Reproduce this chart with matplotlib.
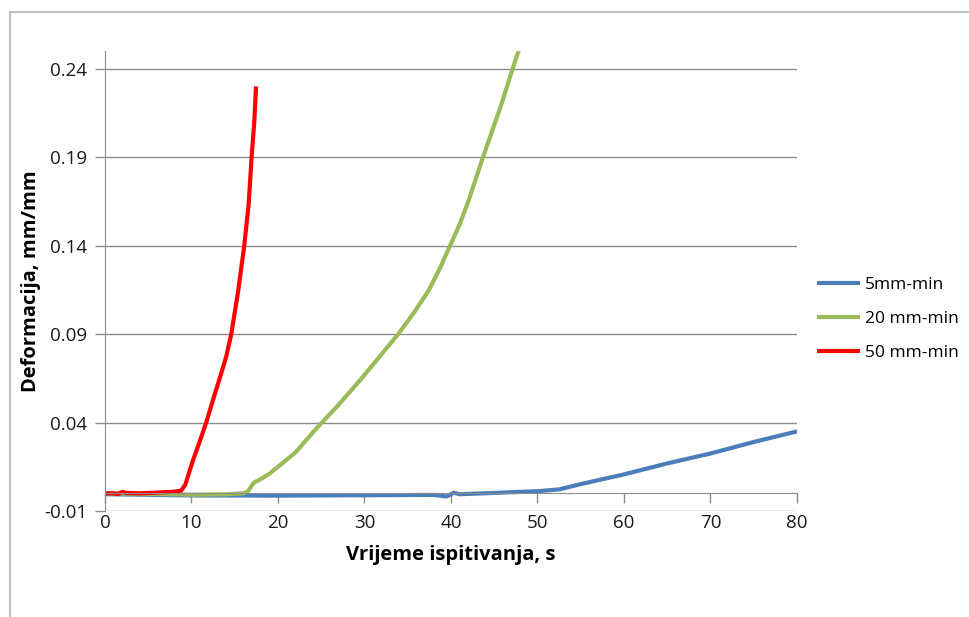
import numpy as np
import matplotlib
matplotlib.use('Agg')
import matplotlib.pyplot as plt
from matplotlib.patches import Rectangle

plt.rcParams['font.family'] = ['Open Sans', 'DejaVu Sans']

# 5mm-min
t_5 = [0, 10, 20, 30, 38, 39.5, 40.3, 41, 45, 50, 52.5, 55, 60, 65, 70, 75, 80]
d_5 = [-0.0005, -0.0012, -0.0013, -0.0011, -0.0009, -0.0018, 0.0003, -0.0005,
       0.0002, 0.0012, 0.0022, 0.0052, 0.0107, 0.0169, 0.0225, 0.029, 0.035]

# 20 mm-min
t_20 = [0, 5, 10, 14, 16, 16.5, 17.2, 18, 19, 20, 22, 24.5, 27, 29.5, 31.7,
        33.9, 35.7, 37.4, 38.7, 39.9, 41, 42, 43.7, 45.7, 47, 47.8, 48.3]
d_20 = [0.0, -0.0003, -0.0008, -0.0006, 0.0, 0.001, 0.006, 0.008, 0.011, 0.015,
        0.023, 0.037, 0.050, 0.064, 0.077, 0.09, 0.102, 0.1145, 0.127, 0.14,
        0.152, 0.165, 0.19, 0.218, 0.238, 0.25, 0.258]

# 50 mm-min
t_50 = [0, 1, 1.5, 2, 2.5, 4, 6, 8, 8.8, 9.3, 9.8, 10.2, 11, 11.7, 12.5, 13.2,
        14, 14.6, 15.4, 16.1, 16.6, 16.95, 17.26, 17.46]
d_50 = [0.0, 0.0, -0.0004, 0.0008, 0.0002, 0.0, 0.0004, 0.0009, 0.0015, 0.005,
        0.013, 0.019, 0.03, 0.04, 0.053, 0.064, 0.077, 0.09, 0.1145, 0.14,
        0.163, 0.19, 0.21, 0.23]

labels = ['5mm-min', '20 mm-min', '50 mm-min']
colors = ['#4a7ebb', '#9bbb59', '#ff0000']

fig = plt.figure(figsize=(9.7, 6.17), dpi=100)
# outer chart border
fig.patches.append(Rectangle((10 / 970, -0.1), 1.2, 1 - 12 / 617 + 0.1,
                             transform=fig.transFigure, fill=False,
                             edgecolor='#bfbfbf', lw=1.5))

ax = fig.add_axes([105 / 970, 106 / 617, 692 / 970, 460 / 617])

ax.plot(t_5, d_5, color=colors[0], lw=3, label=labels[0], solid_capstyle='butt')
ax.plot(t_20, d_20, color=colors[1], lw=3, label=labels[1], solid_capstyle='butt')
ax.plot(t_50, d_50, color=colors[2], lw=3, label=labels[2], solid_capstyle='butt')

ax.set_xlim(0, 80)
ax.set_ylim(-0.01, 0.25)
ax.set_xticks(np.arange(0, 81, 10))
ax.set_yticks(np.arange(-0.01, 0.25, 0.05))
ax.set_yticklabels(['-0.01', '0.04', '0.09', '0.14', '0.19', '0.24'])

ax.yaxis.grid(True, color='#8c8c8c', lw=1)
ax.set_axisbelow(True)
for s in ['top', 'right']:
    ax.spines[s].set_visible(False)
ax.spines['left'].set_color('#8c8c8c')
ax.spines['bottom'].set_color('#8c8c8c')
ax.spines['bottom'].set_position(('data', 0))

ax.tick_params(axis='both', colors='#8c8c8c', labelcolor='#1a1a1a',
               labelsize=13.5, length=7, width=1, direction='out')
ax.tick_params(axis='x', pad=8)
ax.tick_params(axis='y', pad=6)

ax.set_xlabel('Vrijeme ispitivanja, s', fontsize=14.5, fontweight='bold')
ax.set_ylabel('Deformacija, mm/mm', fontsize=14.5, fontweight='bold')
ax.xaxis.set_label_coords(0.5, (511 - 545) / 460)
ax.yaxis.set_label_coords((41 - 105) / 692, 0.5)

fig.legend(loc='center left', bbox_to_anchor=(801 / 970, 1 - 319 / 617),
           frameon=False, fontsize=12.5, handlelength=2.5, handletextpad=0.3,
           labelspacing=1.05)

plt.savefig('out.png', dpi=100)
